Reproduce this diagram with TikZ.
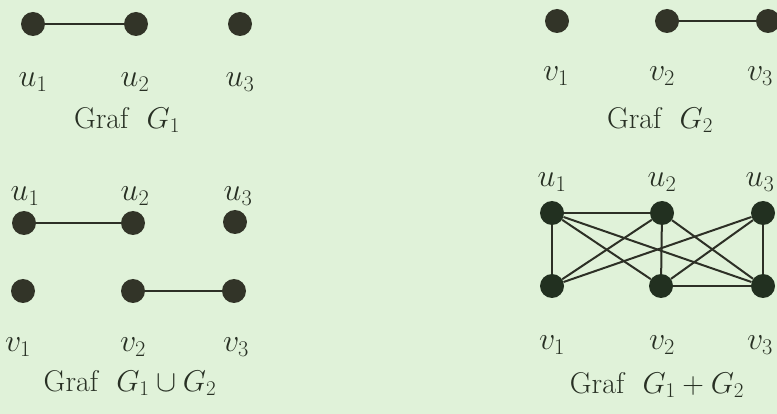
\RequirePackage{fix-cm}
\documentclass[tikz,border=0pt]{standalone}
\definecolor{bgcol}{RGB}{224,242,217}
\definecolor{vcol}{RGB}{50,52,40}
\definecolor{jcol}{RGB}{34,48,32}
\definecolor{ecol}{RGB}{45,48,38}
\definecolor{tcol}{RGB}{40,48,36}
\begin{document}
\begin{tikzpicture}[x=1pt,y=-1pt,
  vtx/.style={circle,fill=vcol,inner sep=0pt,minimum size=24pt},
  jvtx/.style={circle,fill=jcol,inner sep=0pt,minimum size=24pt},
  lbl/.style={inner sep=0pt,text=tcol,font=\fontsize{32}{38}\selectfont},
  capt/.style={inner sep=0pt,text=tcol,font=\fontsize{30}{36}\selectfont},
  edge/.style={draw=ecol,line width=2.4pt},
  jedge/.style={draw=ecol,line width=2pt}]
\useasboundingbox (0,0) rectangle (777,414);
\clip (0,0) rectangle (777,414);
\fill[bgcol] (0,0) rectangle (777,414);

% Graf G1
\node[vtx] (a1) at (33,24) {};
\node[vtx] (a2) at (136,24) {};
\node[vtx] (a3) at (240,24) {};
\draw[edge] (a1) -- (a2);
\node[lbl] (la1) at (33,82) {$u_1$};
\node[lbl] (la2) at (135,82) {$u_2$};
\node[lbl] (la3) at (240,82) {$u_3$};
\node[capt] (c1) at (127,120) {Graf\ \ $G_1$};

% Graf G2
\node[vtx] (b1) at (557,21) {};
\node[vtx] (b2) at (667,21) {};
\node[vtx] (b3) at (768,21) {};
\draw[edge] (b2) -- (b3);
\node[lbl] (lb1) at (556,76) {$v_1$};
\node[lbl] (lb2) at (662,76) {$v_2$};
\node[lbl] (lb3) at (760,76) {$v_3$};
\node[capt] (c2) at (660,120) {Graf\ \ $G_2$};

% Graf G1 u G2
\node[vtx] (p1) at (24,223) {};
\node[vtx] (p2) at (133,223) {};
\node[vtx] (p3) at (235,222) {};
\node[vtx] (q1) at (23,291) {};
\node[vtx] (q2) at (133,291) {};
\node[vtx] (q3) at (234,291) {};
\draw[edge] (p1) -- (p2);
\draw[edge] (q2) -- (q3);
\node[lbl] (lp1) at (25,196) {$u_1$};
\node[lbl] (lp2) at (135,196) {$u_2$};
\node[lbl] (lp3) at (238,196) {$u_3$};
\node[lbl] (lq1) at (18,347) {$v_1$};
\node[lbl] (lq2) at (133,347) {$v_2$};
\node[lbl] (lq3) at (236,347) {$v_3$};
\node[capt] (c3) at (130,383) {Graf\ \ $G_1\cup G_2$};

% Graf G1 + G2
\node[jvtx] (r1) at (552,213) {};
\node[jvtx] (r2) at (662,213) {};
\node[jvtx] (r3) at (763,213) {};
\node[jvtx] (s1) at (552,286) {};
\node[jvtx] (s2) at (661,286) {};
\node[jvtx] (s3) at (763,286) {};
\draw[jedge] (r1) -- (r2);
\draw[jedge] (r1) -- (s1);
\draw[jedge] (r1) -- (s2);
\draw[jedge] (r1) -- (s3);
\draw[jedge] (r2) -- (s1);
\draw[jedge] (r2) -- (s2);
\draw[jedge] (r2) -- (s3);
\draw[jedge] (r3) -- (s1);
\draw[jedge] (r3) -- (s2);
\draw[jedge] (r3) -- (s3);
\draw[jedge] (s2) -- (s3);
\node[lbl] (lr1) at (552,182) {$u_1$};
\node[lbl] (lr2) at (662,182) {$u_2$};
\node[lbl] (lr3) at (760,182) {$u_3$};
\node[lbl] (ls1) at (552,345) {$v_1$};
\node[lbl] (ls2) at (662,345) {$v_2$};
\node[lbl] (ls3) at (760,345) {$v_3$};
\node[capt] (c4) at (657,385) {Graf\ \ $G_1+G_2$};
\end{tikzpicture}
\end{document}
